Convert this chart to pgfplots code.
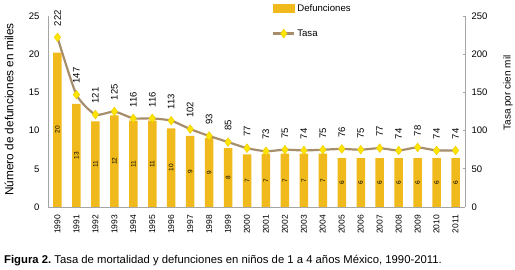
\documentclass[border=0pt]{standalone}
\usepackage{fontspec}
\setmainfont{Liberation Sans}
\usepackage{pgfplots}
\usepackage{pgfplotstable}
\pgfplotsset{compat=1.18}
\frenchspacing
\definecolor{barc}{RGB}{241,186,28}
\definecolor{linec}{RGB}{166,142,108}
\definecolor{mk}{RGB}{255,230,0}
\definecolor{mkb}{RGB}{238,205,0}
\definecolor{axc}{RGB}{165,165,165}
\pgfplotstableread{
year def lab
1990 20.2 20
1991 13.5 13
1992 11.2 11
1993 12.0 12
1994 11.3 11
1995 11.3 11
1996 10.3 10
1997 9.3 9
1998 9.0 9
1999 7.7 8
2000 6.9 7
2001 7.0 7
2002 7.0 7
2003 7.0 7
2004 7.0 7
2005 6.4 6
2006 6.4 6
2007 6.4 6
2008 6.4 6
2009 6.4 6
2010 6.4 6
2011 6.4 6
}\defdata
\pgfplotstableread{
year tasa
1990 222
1991 147
1992 121
1993 125
1994 116
1995 116
1996 113
1997 102
1998 93
1999 85
2000 77
2001 73
2002 75
2003 74
2004 75
2005 76
2006 75
2007 77
2008 74
2009 78
2010 74
2011 74
}\tasadata
\pgfplotsset{/pgf/number format/assume math mode=true,
  tasalegend/.style={legend image code/.code={%
    \draw[##1, sharp plot] (0pt,0pt) -- (21pt,0pt);
    \draw[##1, only marks] plot coordinates {(10.5pt,0pt)};}},
  barlegend/.style={legend image code/.code={\fill[barc] (0pt,-4pt) rectangle (21pt,4pt);}}
}
\begin{document}
\begin{tikzpicture}
\useasboundingbox (-48pt,-63pt) rectangle (467pt,207pt);
\begin{axis}[
  scale only axis, width=417pt, height=191pt,
  at={(0pt,0pt)}, anchor=south west,
  xmin=1989.5, xmax=2011.5, ymin=0, ymax=25,
  axis x line*=bottom, axis y line*=left,
  axis line style={draw=axc, line width=0.8pt},
  ytick={0,5,...,25},
  xtick={1990,...,2011},
  major tick length=0pt,
  xticklabel style={yshift=-4.5pt, rotate=90, anchor=east, font=\fontsize{8.5}{9}\selectfont, /pgf/number format/1000 sep={}},
  yticklabel style={font=\fontsize{9.5}{10}\selectfont, xshift=-5pt},
  ybar, bar width=8.5pt,
  visualization depends on=rawy\as\rawy,
  nodes near coords={\pgfmathprintnumber[fixed,precision=0]{\pgfplotspointmeta}},
  point meta=explicit,
  every node near coord/.append style={shift={(axis direction cs:0,-\rawy/2)}, rotate=90, anchor=center, font=\fontsize{6.5}{7}\selectfont, inner sep=0pt},
]
\addplot[fill=barc, draw=none] table[x=year, y=def, meta=lab] {\defdata};
\end{axis}
\begin{axis}[
  scale only axis, width=417pt, height=191pt,
  at={(0pt,0pt)}, anchor=south west,
  xmin=1989.5, xmax=2011.5, ymin=0, ymax=250,
  axis x line=none, axis y line*=right,
  axis line style={draw=axc, line width=0.8pt},
  ytick={0,50,...,250},
  major tick length=2.5pt,
  tick style={draw=axc, line width=0.6pt},
  tick align=inside,
  yticklabel style={font=\fontsize{9.5}{10}\selectfont, xshift=3pt},
  legend style={at={(0.537,1.074)}, anchor=north west, draw=none, fill=none, inner sep=0pt,
    font=\fontsize{9.6}{10}\selectfont, row sep=13pt},
  legend cell align=left,
]
\addlegendimage{barlegend}
\addlegendentry{Defunciones}
\addplot[color=linec, line width=2.2pt, smooth, tension=0.35,
  mark=diamond*, mark size=4.3pt, mark options={fill=mk, draw=mkb, line width=0.5pt},
  nodes near coords, point meta=y,
  every node near coord/.append style={yshift=11pt, rotate=90, anchor=west, font=\fontsize{9.5}{10}\selectfont, text=black, inner sep=0pt},
  tasalegend
] table[x=year, y=tasa] {\tasadata};
\addlegendentry{Tasa}
\end{axis}
\node[rotate=90, font=\fontsize{11.8}{13}\selectfont] at (-39pt,97.5pt) {Número de defunciones en miles};
\node[rotate=90, font=\fontsize{10}{11}\selectfont] at (460pt,114pt) {Tasa por cien mil};
\node[anchor=base west, font=\fontsize{11.3}{12}\selectfont, inner sep=0pt] at (-44pt,-57pt) {\textbf{Figura 2.} Tasa de mortalidad y defunciones en niños de 1 a 4 años México, 1990-2011.};
\end{tikzpicture}
\end{document}
